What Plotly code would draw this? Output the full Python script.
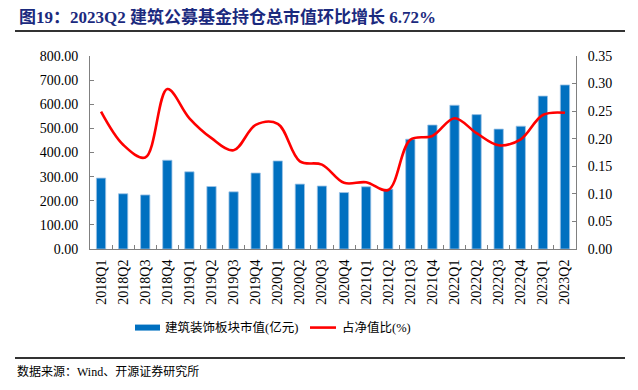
import plotly.graph_objects as go

categories = ["2018Q1","2018Q2","2018Q3","2018Q4","2019Q1","2019Q2","2019Q3","2019Q4",
              "2020Q1","2020Q2","2020Q3","2020Q4","2021Q1","2021Q2","2021Q3","2021Q4",
              "2022Q1","2022Q2","2022Q3","2022Q4","2023Q1","2023Q2"]
market_value = [294, 229, 224, 368, 320, 259, 237, 315,
                365, 269, 261, 234, 258, 248, 455, 514,
                596, 557, 497, 509, 634, 680]
nav_ratio = [0.249, 0.189, 0.166, 0.290, 0.237, 0.201, 0.179, 0.225,
             0.227, 0.159, 0.153, 0.120, 0.121, 0.107, 0.198, 0.205,
             0.237, 0.210, 0.188, 0.199, 0.243, 0.247]
left_ticks = [0, 100, 200, 300, 400, 500, 600, 700, 800]
right_ticks = [0, 0.05, 0.10, 0.15, 0.20, 0.25, 0.30, 0.35]

SERIF = "Liberation Serif, Times New Roman, Noto Sans CJK SC, serif"
OFF = 8  # default page body margin
W, H = 638 - 2 * OFF, 390 - 2 * OFF
L, R, T, B = 90 - OFF, 576 - OFF, 56 - OFF, 249.3 - OFF

def px(x):
    return (x - OFF - L) / (R - L)

def py(y):
    return (B - (y - OFF)) / (B - T)

fig = go.Figure()
fig.add_trace(go.Bar(
    x=categories, y=market_value, name="建筑装饰板块市值(亿元)",
    marker=dict(color="#0070C0", line=dict(color="#9DC3E6", width=0.8)),
    width=0.42, yaxis="y"))
fig.add_trace(go.Scatter(
    x=categories, y=nav_ratio, name="占净值比(%)", mode="lines",
    line=dict(color="#FF0000", width=2.6, shape="spline", smoothing=1.0),
    yaxis="y2"))

axis_common = dict(showgrid=False, zeroline=False, showline=True,
                   linecolor="#808080", linewidth=1,
                   ticks="inside", ticklen=4, tickcolor="#808080",
                   ticklabelstandoff=8,
                   tickfont=dict(family=SERIF, size=14, color="#000000"))

fig.update_layout(
    width=W, height=H,
    margin=dict(l=L, r=W - R, t=T, b=H - B, pad=0),
    paper_bgcolor="white", plot_bgcolor="white",
    showlegend=False, bargap=0.58,
    xaxis=dict(type="category", showgrid=False, showline=True, linecolor="#808080",
               ticks="inside", ticklen=4, tickcolor="#808080", tickson="boundaries",
               tickangle=-90, ticklabelstandoff=4,
               tickfont=dict(family=SERIF, size=14, color="#000000"),
               range=[-0.5, len(categories) - 0.5]),
    yaxis=dict(range=[0, 800], tickvals=left_ticks,
               ticktext=[f"{v:.2f}" for v in left_ticks], **axis_common),
    yaxis2=dict(range=[0, 0.35], tickvals=right_ticks, overlaying="y", side="right",
                ticktext=[f"{v:.2f}" for v in right_ticks], **axis_common),
)

shapes = []
annotations = []

def rule(y):
    # full-width separator rule drawn as a filled annotation box
    return dict(xref="paper", yref="paper", x=px(15), y=py(y), xanchor="left",
                yanchor="middle", showarrow=False, text=" ",
                font=dict(size=1), width=610, height=2, borderpad=0,
                borderwidth=0, bgcolor="#333333")

# title
annotations.append(dict(xref="paper", yref="paper", x=px(17), y=py(17), xanchor="left",
                        yanchor="middle", showarrow=False,
                        text="<b>图19：2023Q2 建筑公募基金持仓总市值环比增长 6.72%</b>",
                        font=dict(family=SERIF, size=17, color="#1B2A7E")))
annotations.append(rule(30.5))
# legend
shapes.append(dict(type="rect", xref="paper", yref="paper", x0=px(135), x1=px(160),
                   y0=py(331), y1=py(325), fillcolor="#0070C0",
                   line=dict(width=0)))
annotations.append(dict(xref="paper", yref="paper", x=px(163), y=py(328), xanchor="left",
                        yanchor="middle", showarrow=False, text="建筑装饰板块市值(亿元)",
                        font=dict(family=SERIF, size=12.5, color="#000000")))
shapes.append(dict(type="line", xref="paper", yref="paper", x0=px(310), x1=px(336),
                   y0=py(328), y1=py(328), line=dict(color="#FF0000", width=2.6)))
annotations.append(dict(xref="paper", yref="paper", x=px(340), y=py(328), xanchor="left",
                        yanchor="middle", showarrow=False, text="占净值比(%)",
                        font=dict(family=SERIF, size=12.5, color="#000000")))
# source
annotations.append(rule(358.5))
annotations.append(dict(xref="paper", yref="paper", x=px(15), y=py(372), xanchor="left",
                        yanchor="middle", showarrow=False, text="数据来源：Wind、开源证券研究所",
                        font=dict(family=SERIF, size=12, color="#000000")))

fig.update_layout(shapes=shapes, annotations=annotations)
fig.write_html("out.html")
